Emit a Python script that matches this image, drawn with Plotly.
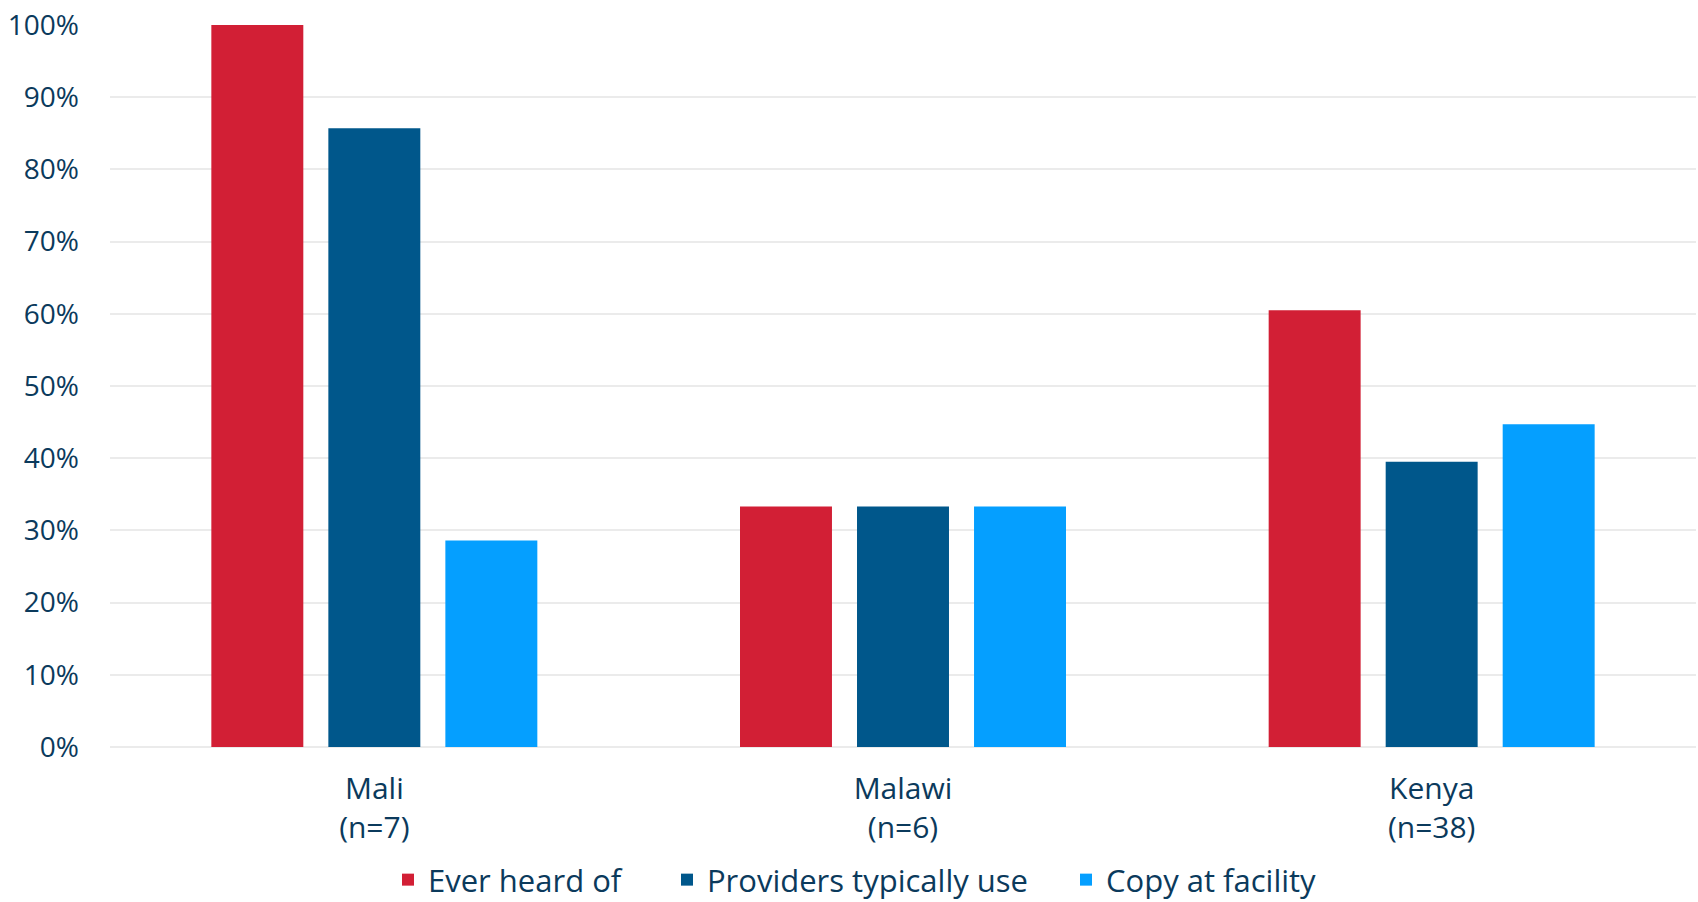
import plotly.graph_objects as go

# Survey results by country (share of respondents, %)
countries = ["Mali<br>(n=7)", "Malawi<br>(n=6)", "Kenya<br>(n=38)"]
ever_heard = [100.0, 33.3, 60.5]
providers_use = [85.7, 33.3, 39.5]
copy_at_facility = [28.6, 33.3, 44.7]

series_names = ["Ever heard of", "Providers typically use", "Copy at facility"]
series_colors = ["#D21F35", "#00578B", "#059FFF"]
y_ticks = [0, 10, 20, 30, 40, 50, 60, 70, 80, 90, 100]

TEXT = "#0B3A5C"
FONT = "Open Sans, DejaVu Sans, sans-serif"

fig = go.Figure()
legend_ids = ["legend", "legend2", "legend3"]
for name, vals, color, lg in zip(series_names,
                                 [ever_heard, providers_use, copy_at_facility],
                                 series_colors, legend_ids):
    fig.add_trace(go.Bar(x=countries, y=vals, name=name, legend=lg,
                         marker=dict(color=color, line=dict(width=0))))

legend_common = dict(orientation="h", xref="container", yref="container",
                     xanchor="left", yanchor="middle", y=0.0244,
                     bgcolor="rgba(0,0,0,0)", borderwidth=0,
                     font=dict(family=FONT, size=31, color=TEXT))

fig.update_layout(
    width=1698, height=902,
    margin=dict(l=110, r=2, t=25, b=155, pad=0),
    paper_bgcolor="white", plot_bgcolor="white",
    barmode="group", bargap=0.336, bargroupgap=0.214,
    font=dict(family=FONT, color=TEXT),
    showlegend=True,
    legend=dict(**legend_common, x=0.2285),
    legend2=dict(**legend_common, x=0.3928),
    legend3=dict(**legend_common, x=0.6278),
    xaxis=dict(showgrid=False, showline=False, zeroline=False, ticks="",
               automargin=False, ticklabelstandoff=21,
               tickfont=dict(family=FONT, size=30, color=TEXT)),
    yaxis=dict(range=[0, 100], tickvals=y_ticks,
               ticktext=[f"{v}%" for v in y_ticks],
               showgrid=True, gridcolor="#EBEBEB", gridwidth=2,
               zeroline=True, zerolinecolor="#EBEBEB", zerolinewidth=2,
               showline=False, ticks="", automargin=False,
               ticklabelstandoff=30,
               tickfont=dict(family=FONT, size=28, color=TEXT)),
)

fig.write_html("out.html")
